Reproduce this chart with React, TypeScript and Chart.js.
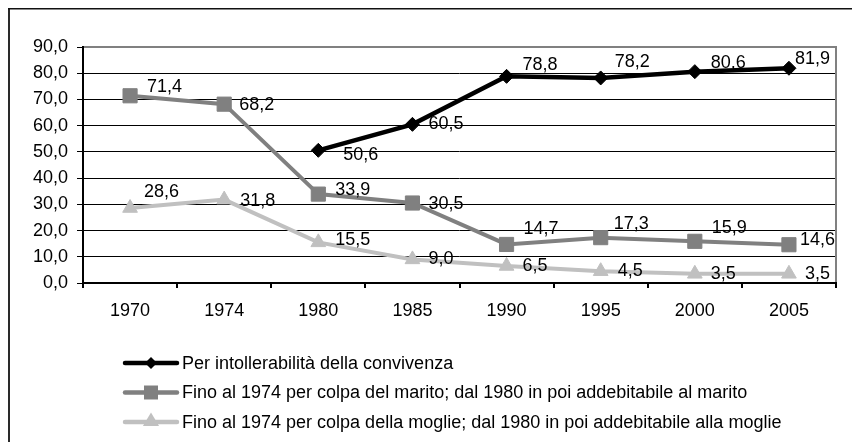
import React, { useEffect, useRef } from 'react';
import { Chart, registerables } from 'chart.js';

Chart.register(...registerables);

// ---- data ----
const categories = ['1970', '1974', '1980', '1985', '1990', '1995', '2000', '2005'];
const seriesNames = [
  'Per intollerabilità della convivenza',
  'Fino al 1974 per colpa del marito; dal 1980 in poi addebitabile al marito',
  'Fino al 1974 per colpa della moglie; dal 1980 in poi addebitabile alla moglie',
];
const intollerabilita = [null, null, 50.6, 60.5, 78.8, 78.2, 80.6, 81.9];
const colpaMarito = [71.4, 68.2, 33.9, 30.5, 14.7, 17.3, 15.9, 14.6];
const colpaMoglie = [28.6, 31.8, 15.5, 9.0, 6.5, 4.5, 3.5, 3.5];
const yTicksMin = 0;
const yTicksMax = 90;
const yTicksStep = 10;

// ---- style: data-label offsets (dx to text start, dy to text centre) ----
const labelOffsets: number[][][] = [
  [[0, 0], [0, 0], [25, 5], [16, 0], [16, -11], [14, -16], [16, -9], [6, -9]],
  [[17, -9], [15, 1], [17, -4], [16, 1], [17, -15], [13, -14], [17, -13], [11, -5]],
  [[14, -16], [16, 1], [17, -2], [16, 0], [16, 0], [17, 0], [16, 0], [16, 0]],
];

const FONT = "'Liberation Sans', Arial, sans-serif";
const FONT_SIZE = 18;
const COLORS = ['#000000', '#808080', '#c0c0c0'];
const fmt = (v: number) => v.toFixed(1).replace('.', ',');

function drawMarker(ctx: CanvasRenderingContext2D, shape: string, x: number, y: number, r: number, color: string) {
  ctx.save();
  ctx.fillStyle = color;
  ctx.beginPath();
  if (shape === 'rectRot') {
    ctx.moveTo(x - r, y);
    ctx.lineTo(x, y - r);
    ctx.lineTo(x + r, y);
    ctx.lineTo(x, y + r);
  } else if (shape === 'rect') {
    ctx.rect(x - r, y - r, 2 * r, 2 * r);
  } else {
    ctx.moveTo(x, y - r);
    ctx.lineTo(x + r * 0.95, y + r * 0.6);
    ctx.lineTo(x - r * 0.95, y + r * 0.6);
  }
  ctx.closePath();
  ctx.fill();
  ctx.restore();
}

const framePlugin = {
  id: 'framePlugin',
  beforeDatasetsDraw(chart: any) {
    const { ctx, chartArea } = chart;
    const { left, right, top, bottom } = chartArea;
    ctx.save();
    // grey plot-area border (top & right)
    ctx.strokeStyle = '#808080';
    ctx.lineWidth = 2;
    ctx.beginPath();
    ctx.moveTo(left, top);
    ctx.lineTo(right, top);
    ctx.lineTo(right, bottom);
    ctx.stroke();
    // black axes
    ctx.strokeStyle = '#000000';
    ctx.lineWidth = 2;
    ctx.beginPath();
    ctx.moveTo(left, top - 1);
    ctx.lineTo(left, bottom);
    ctx.lineTo(right + 1, bottom);
    ctx.stroke();
    ctx.restore();
  },
  afterDraw(chart: any) {
    const { ctx, chartArea } = chart;
    ctx.save();
    // outer frame (left and top edges visible)
    ctx.fillStyle = '#2a2a2a';
    ctx.fillRect(8, 9, 2, chart.height - 9);
    ctx.fillStyle = '#111111';
    ctx.fillRect(8, 8, chart.width - 8, 1.5);

    // data labels
    ctx.font = `${FONT_SIZE}px ${FONT}`;
    ctx.fillStyle = '#000000';
    ctx.textAlign = 'left';
    ctx.textBaseline = 'middle';
    chart.data.datasets.forEach((ds: any, di: number) => {
      const meta = chart.getDatasetMeta(di);
      meta.data.forEach((el: any, i: number) => {
        const v = ds.data[i];
        if (v === null || v === undefined) return;
        const off = labelOffsets[di][i];
        ctx.fillText(fmt(v), el.x + off[0], el.y + off[1]);
      });
    });

    // legend
    const lx0 = 123;
    const lx1 = 179;
    const rowY0 = chartArea.bottom + 80;
    const rowGap = 29.5;
    chart.data.datasets.forEach((ds: any, di: number) => {
      const y = rowY0 + di * rowGap;
      ctx.strokeStyle = ds.borderColor;
      ctx.lineWidth = 4.5;
      ctx.lineCap = 'round';
      ctx.beginPath();
      ctx.moveTo(lx0 + 2, y);
      ctx.lineTo(lx1 - 2, y);
      ctx.stroke();
      const cx = (lx0 + lx1) / 2;
      if (ds.pointStyle === 'rectRot') drawMarker(ctx, 'rectRot', cx, y, 6, ds.borderColor);
      else if (ds.pointStyle === 'rect') drawMarker(ctx, 'rect', cx, y, 7, ds.borderColor);
      else drawMarker(ctx, 'triangle', cx, y - 1, 8.5, ds.borderColor);
      ctx.fillStyle = '#000000';
      ctx.fillText(ds.label, lx1 + 3, y + 1);
    });
    ctx.restore();
  },
};

export default function App() {
  const canvasRef = useRef<HTMLCanvasElement | null>(null);

  useEffect(() => {
    if (!canvasRef.current) return;
    const chart = new Chart(canvasRef.current, {
      type: 'line',
      data: {
        labels: categories,
        datasets: [
          {
            label: seriesNames[0],
            data: intollerabilita,
            borderColor: COLORS[0],
            backgroundColor: COLORS[0],
            borderWidth: 4.5,
            pointStyle: 'rectRot',
            pointRadius: 7,
            pointBorderWidth: 1,
            pointBackgroundColor: COLORS[0],
            pointBorderColor: COLORS[0],
            tension: 0,
          },
          {
            label: seriesNames[1],
            data: colpaMarito,
            borderColor: COLORS[1],
            backgroundColor: COLORS[1],
            borderWidth: 4,
            pointStyle: 'rect',
            pointRadius: 10,
            pointBorderWidth: 1,
            pointBackgroundColor: COLORS[1],
            pointBorderColor: COLORS[1],
            tension: 0,
          },
          {
            label: seriesNames[2],
            data: colpaMoglie,
            borderColor: COLORS[2],
            backgroundColor: COLORS[2],
            borderWidth: 4,
            pointStyle: 'triangle',
            pointRadius: 8.5,
            pointBorderWidth: 1,
            pointBackgroundColor: COLORS[2],
            pointBorderColor: COLORS[2],
            tension: 0,
          },
        ],
      },
      options: {
        responsive: false,
        animation: false,
        layout: { padding: { left: 0, top: 47, right: 16, bottom: 109 } },
        plugins: {
          legend: { display: false },
          tooltip: { enabled: false },
        },
        scales: {
          x: {
            type: 'category',
            offset: true,
            border: { display: false },
            grid: {
              offset: true,
              drawOnChartArea: false,
              drawTicks: true,
              tickLength: 5,
              color: '#000000',
              lineWidth: 2,
            },
            ticks: {
              color: '#000000',
              font: { family: FONT, size: FONT_SIZE },
              padding: 12,
              maxRotation: 0,
              autoSkip: false,
            },
            afterFit(scale: any) {
              scale.height = 50;
            },
          },
          y: {
            min: yTicksMin,
            max: yTicksMax,
            border: { display: false },
            grid: {
              color: '#000000',
              lineWidth: 1,
              drawTicks: true,
              tickLength: 6,
            },
            ticks: {
              stepSize: yTicksStep,
              color: '#000000',
              font: { family: FONT, size: FONT_SIZE },
              padding: 9,
              callback: (v: any) => fmt(Number(v)),
            },
            afterFit(scale: any) {
              scale.width = 83;
            },
          },
        },
      },
      plugins: [framePlugin],
    } as any);
    return () => chart.destroy();
  }, []);

  return (
    <div style={{ position: 'absolute', left: 0, top: 0, width: 852, height: 442, background: '#ffffff' }}>
      <canvas ref={canvasRef} width={852} height={442} style={{ display: 'block', width: 852, height: 442 }} />
    </div>
  );
}
